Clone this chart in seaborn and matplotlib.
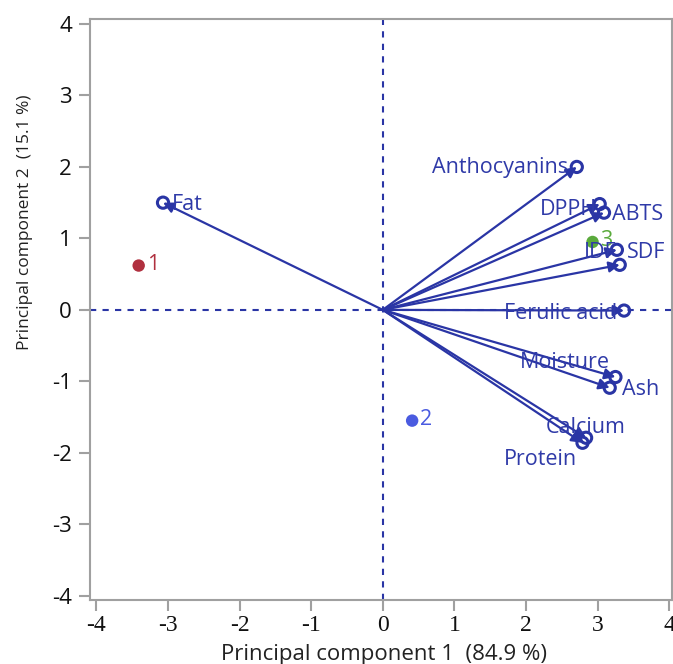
import matplotlib
matplotlib.use("Agg")
import matplotlib.pyplot as plt
import seaborn as sns
import pandas as pd

# Loadings (variables)
variables = ['Fat', 'Anthocyanins', 'DPPH', 'ABTS', 'IDF', 'SDF',
             'Ferulic acid', 'Moisture', 'Ash', 'Calcium', 'Protein']
load_pc1 = [-3.07, 2.71, 3.03, 3.09, 3.27, 3.31, 3.37, 3.25, 3.17, 2.84, 2.79]
load_pc2 = [1.50, 2.00, 1.48, 1.36, 0.84, 0.63, -0.01, -0.94, -1.09, -1.79, -1.86]

# Sample scores
samples = ['1', '2', '3']
score_pc1 = [-3.41, 0.41, 2.93]
score_pc2 = [0.62, -1.55, 0.95]

ticks = [-4, -3, -2, -1, 0, 1, 2, 3, 4]
tick_labels = ['-4', '-3', '-2', '-1', '0', '1', '2', '3', '4']

loadings = pd.DataFrame({'var': variables, 'pc1': load_pc1, 'pc2': load_pc2})
scores = pd.DataFrame({'sample': samples, 'pc1': score_pc1, 'pc2': score_pc2})

navy = '#2a35a5'
text_blue = '#2f3aa8'
sample_colors = {'1': '#b0303f', '2': '#4a5be0', '3': '#5aaa3c'}

# label placement (pixel offsets from the arrow tip, alignment)
label_pos = {
    'Fat': (9, -2, 'left'),
    'Anthocyanins': (-9, -1, 'right'),
    'DPPH': (-3, -5, 'right'),
    'ABTS': (8, -2, 'left'),
    'IDF': (0, -3, 'right'),
    'SDF': (7, 12, 'left'),
    'Ferulic acid': (-7, -3, 'right'),
    'Moisture': (-6, 15, 'right'),
    'Ash': (12, -2, 'left'),
    'Calcium': (0, 10, 'center'),
    'Protein': (-6, -17, 'right'),
}

sns.set_theme(style="white")
plt.rcParams['font.family'] = ['Open Sans', 'DejaVu Sans']
plt.rcParams['axes.unicode_minus'] = False

fig = plt.figure(figsize=(6.73, 6.64), dpi=100)
ax = fig.add_axes([90 / 673, 64 / 664, 582 / 673, 581 / 664])

# reference lines through the origin
ax.axhline(0, color=navy, lw=1.5, ls=(0, (3, 3)), zorder=1)
ax.axvline(0, color=navy, lw=1.5, ls=(0, (3, 3)), zorder=1)

# loading arrows
for _, r in loadings.iterrows():
    ax.annotate('', xy=(r.pc1, r.pc2), xytext=(0, 0),
                arrowprops=dict(arrowstyle='-|>', color=navy, lw=1.6,
                                mutation_scale=16, shrinkA=0, shrinkB=0),
                zorder=3)
sns.scatterplot(data=loadings, x='pc1', y='pc2', ax=ax, marker='o', s=65,
                facecolor='none', edgecolor=navy, linewidth=2.2, zorder=4)
for _, r in loadings.iterrows():
    dx, dy, ha = label_pos[r['var']]
    ax.annotate(r['var'], xy=(r.pc1, r.pc2), xytext=(dx, dy),
                textcoords='offset pixels', ha=ha, va='center',
                fontsize=15.5, color=text_blue, zorder=5)

# sample scores
sns.scatterplot(data=scores, x='pc1', y='pc2', hue='sample', palette=sample_colors,
                ax=ax, s=80, edgecolor='none', legend=False, zorder=4)
for _, r in scores.iterrows():
    ax.annotate(r['sample'], xy=(r.pc1, r.pc2), xytext=(8, 1),
                textcoords='offset pixels', ha='left', va='center',
                fontsize=15.5, color=sample_colors[r['sample']], zorder=2)

ax.set_xlim(-4.09, 4.04)
ax.set_ylim(-4.06, 4.07)
ax.set_yticks(ticks)
ax.set_xticks(ticks)
ax.set_xticklabels(tick_labels, fontfamily='Liberation Serif', fontsize=17,
                   color='#111111')

for s in ax.spines.values():
    s.set_color('#a0a0a0')
    s.set_linewidth(1.5)
ax.tick_params(axis='both', direction='out', length=8, width=1.5, color='#a0a0a0',
               bottom=True, left=True)
ax.tick_params(axis='y', labelsize=16, pad=5, labelcolor='#111111')
ax.tick_params(axis='x', pad=3)
ax.xaxis.get_major_ticks()[4].tick1line.set_color(navy)
ax.yaxis.get_major_ticks()[4].tick1line.set_color(navy)

ax.set_xlabel('Principal component 1  (84.9 %)', fontsize=16, color='#222222')
ax.set_ylabel('Principal component 2  (15.1 %)', fontsize=12.5, color='#222222')
ax.xaxis.set_label_coords(0.505, -0.076)
ax.yaxis.set_label_coords(-0.098, 0.65)

fig.savefig('out.png', dpi=100)
